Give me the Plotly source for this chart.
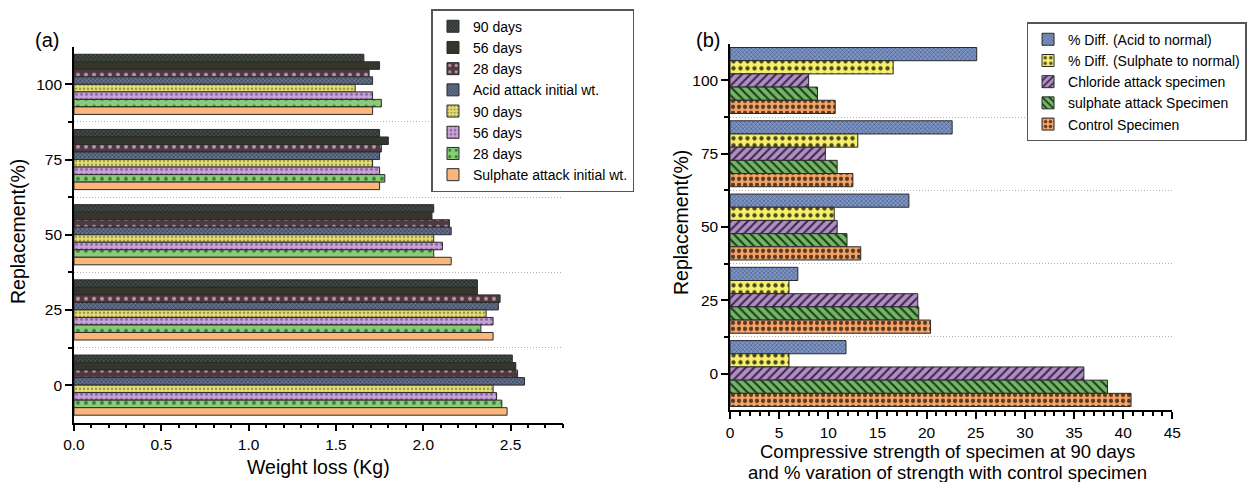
import plotly.graph_objects as go

# ---------------- data ----------------
replacement = [0, 25, 50, 75, 100]

# Panel (a): weight loss (Kg); listed top-to-bottom as in the legend
a_names = ["90 days", "56 days", "28 days", "Acid attack initial wt.",
           "90 days", "56 days", "28 days", "Sulphate attack initial wt."]
acid_90 = [2.51, 2.31, 2.06, 1.75, 1.66]
acid_56 = [2.53, 2.31, 2.05, 1.80, 1.75]
acid_28 = [2.54, 2.44, 2.15, 1.76, 1.69]
acid_init = [2.58, 2.43, 2.16, 1.75, 1.71]
sul_90 = [2.40, 2.36, 2.06, 1.71, 1.61]
sul_56 = [2.42, 2.40, 2.11, 1.75, 1.71]
sul_28 = [2.45, 2.33, 2.06, 1.78, 1.76]
sul_init = [2.48, 2.40, 2.16, 1.75, 1.71]
a_values = [acid_90, acid_56, acid_28, acid_init, sul_90, sul_56, sul_28, sul_init]

# Panel (b): compressive strength at 90 days and % variation
b_names = ["% Diff. (Acid to normal)", "% Diff. (Sulphate to normal)",
           "Chloride attack specimen", "sulphate attack Specimen", "Control Specimen"]
diff_acid = [11.8, 6.9, 18.2, 22.6, 25.1]
diff_sulphate = [6.0, 6.0, 10.6, 13.0, 16.6]
chloride = [36.0, 19.1, 10.9, 9.7, 8.0]
sulphate = [38.4, 19.2, 11.9, 10.9, 8.9]
control = [40.8, 20.4, 13.3, 12.5, 10.7]
b_values = [diff_acid, diff_sulphate, chloride, sulphate, control]

# ---------------- styles ----------------
a_styles = [
    dict(bg="#2e3430", fg="#5f695f", shape="x", size=3, sol=0.3),
    dict(bg="#34362b", fg="#4a4c3e", shape="", size=4, sol=0.3),
    dict(bg="#4a3b43", fg="#c98ea5", shape=".", size=8, sol=0.2),
    dict(bg="#47536b", fg="#8e9bb6", shape="x", size=3, sol=0.3),
    dict(bg="#e4df78", fg="#9c9642", shape=".", size=4, sol=0.3),
    dict(bg="#c9a3d8", fg="#8c68a0", shape=".", size=5, sol=0.3),
    dict(bg="#88cb78", fg="#3e7b39", shape=".", size=8, sol=0.18),
    dict(bg="#fbb77b", fg="#fbb77b", shape="", size=4, sol=0.3),
]
b_styles = [
    dict(bg="#7f97c7", fg="#3c4a6e", shape="x", size=3, sol=0.3),
    dict(bg="#f6ef6a", fg="#4a4820", shape=".", size=7, sol=0.3),
    dict(bg="#b18dc6", fg="#3a2a46", shape="/", size=6, sol=0.35),
    dict(bg="#73b764", fg="#1f3b1f", shape="\\", size=6, sol=0.35),
    dict(bg="#f4a468", fg="#5b3b20", shape=".", size=6, sol=0.4),
]

FONT = "Liberation Sans"
fig = go.Figure()

def add_panel(names, values, styles, xa, ya, legend, group_frac):
    n = len(names)
    spacing = replacement[1] - replacement[0]
    width = spacing * group_frac / n
    for k, (name, vals, st) in enumerate(zip(names, values, styles)):
        idx_from_bottom = n - 1 - k
        offset = -spacing * group_frac / 2 + idx_from_bottom * width
        fig.add_trace(go.Bar(
            y=replacement, x=vals, orientation="h", name=name,
            width=width, offset=offset,
            xaxis=xa, yaxis=ya, legend=legend,
            marker=dict(color=st["bg"],
                        line=dict(color="#2a2a2a", width=1),
                        pattern=dict(shape=st["shape"], bgcolor=st["bg"],
                                     fgcolor=st["fg"], size=st["size"],
                                     solidity=st["sol"], fillmode="replace")),
        ))

add_panel(a_names, a_values, a_styles, "x", "y", "legend", 0.8)
add_panel(b_names, b_values, b_styles, "x2", "y2", "legend2", 0.9)

axis_common = dict(showline=True, linecolor="black", linewidth=1.5,
                   ticks="outside", ticklen=7, tickwidth=1.5, tickcolor="black",
                   showgrid=False, zeroline=False, automargin=False,
                   tickfont=dict(family=FONT, size=15.5, color="black"))

yaxis_common = dict(axis_common, range=[-12.5, 112.5], tickmode="array",
                    tickvals=replacement,
                    minor=dict(tickmode="array", tickvals=[12.5, 37.5, 62.5, 87.5],
                               ticklen=4, tickwidth=1.5, tickcolor="black",
                               showgrid=True, griddash="1px,2px",
                               gridcolor="#b0b0b0", gridwidth=1))

legend_common = dict(xanchor="left", yanchor="top",
                     bgcolor="white", bordercolor="#555555", borderwidth=1.5,
                     font=dict(family=FONT, size=14, color="black"),
                     tracegroupgap=0)

fig.update_layout(
    width=1258, height=482,
    margin=dict(l=0, r=0, t=0, b=0),
    paper_bgcolor="white", plot_bgcolor="white",
    barmode="overlay",
    font=dict(family=FONT, color="black"),
    xaxis=dict(axis_common, domain=[0.0588, 0.4475], anchor="y",
               range=[0, 2.8], dtick=0.5, tick0=0, tickformat=".1f",
               minor=dict(dtick=0.1, ticklen=4, tickwidth=1.5, tickcolor="black")),
    yaxis=dict(yaxis_common, domain=[0.123, 0.903], anchor="x"),
    xaxis2=dict(axis_common, domain=[0.5803, 0.9319], anchor="y2",
                range=[0, 45], dtick=5, tick0=0,
                minor=dict(dtick=1, ticklen=4, tickwidth=1.5, tickcolor="black")),
    yaxis2=dict(yaxis_common, domain=[0.149, 0.909], anchor="x2"),
    legend=dict(legend_common, x=0.343, y=0.981),
    legend2=dict(legend_common, x=0.816, y=0.954),
    showlegend=True,
)

ann = [
    dict(text="(a)", x=47, y=40, font_size=20),
    dict(text="(b)", x=708, y=40, font_size=20),
    dict(text="Replacement(%)", x=18, y=232, font_size=19.5, textangle=-90),
    dict(text="Replacement(%)", x=681, y=223, font_size=19.5, textangle=-90),
    dict(text="Weight loss (Kg)", x=318, y=467, font_size=19.5),
    dict(text="Compressive strength of specimen at 90 days", x=947, y=451, font_size=18.5),
    dict(text="and % varation of strength with control specimen", x=947, y=472, font_size=18.5),
]
for a in ann:
    fig.add_annotation(text=a["text"], x=a["x"] / 1258, y=1 - a["y"] / 482,
                       xref="paper", yref="paper", showarrow=False,
                       xanchor="center", yanchor="middle",
                       textangle=a.get("textangle", 0),
                       font=dict(family=FONT, size=a["font_size"], color="black"))

fig.write_html("out.html", config={"displayModeBar": False},
               post_script="document.body.style.margin='0';document.body.style.overflow='hidden';")
